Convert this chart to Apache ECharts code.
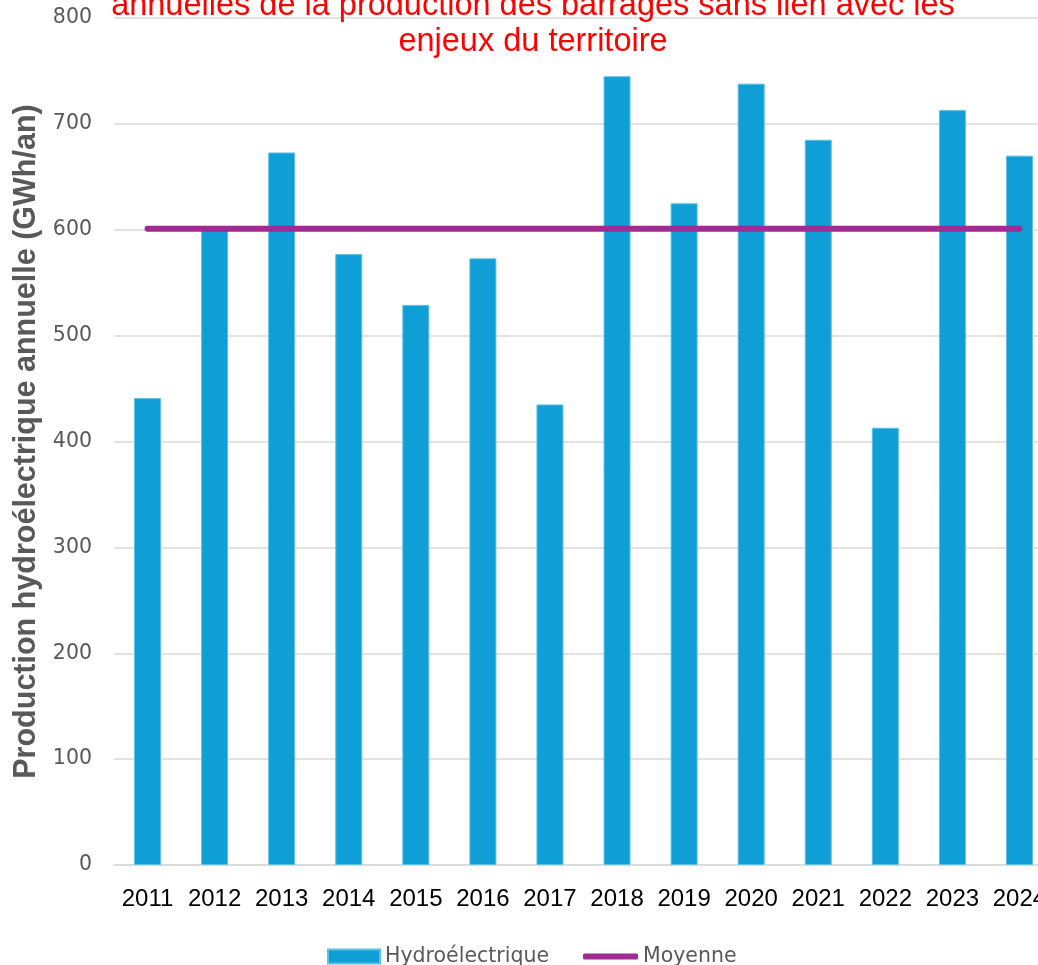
<!DOCTYPE html>
<html>
<head>
<meta charset="utf-8">
<script src="https://cdn.jsdelivr.net/npm/echarts@6/dist/echarts.min.js"></script>
<style>
  html, body { margin: 0; padding: 0; background: #fff; overflow: hidden; }
  /* le graphique d'origine est rogné à droite : le canevas dépasse la fenêtre */
  #chart { width: 1053px; height: 965px; }
</style>
</head>
<body>
<div id="chart"></div>
<script>
// données
const years = ['2011', '2012', '2013', '2014', '2015', '2016', '2017', '2018', '2019', '2020', '2021', '2022', '2023', '2024']
const hydro = [441, 601, 673, 577, 529, 573, 435, 745, 625, 738, 685, 413, 713, 670]
const moyenne = [601, 601, 601, 601, 601, 601, 601, 601, 601, 601, 601, 601, 601, 601]

const grey = '#595959'
const chart = echarts.init(document.getElementById('chart'))

chart.setOption({
  animation: false,
  title: {
    text: 'annuelles de la production des barrages sans lien avec les\nenjeux du territoire',
    left: 533,
    textAlign: 'center',
    top: -12,
    padding: 0,
    textStyle: {
      color: '#ff0000',
      fontFamily: 'Liberation Sans',
      fontWeight: 'normal',
      fontSize: 32.5,
      lineHeight: 36
    }
  },
  legend: [
    {
      data: ['Hydroélectrique'],
      left: 327,
      top: 946,
      padding: 0,
      itemWidth: 52,
      itemHeight: 14,
      icon: 'rect',
      textStyle: { color: grey, fontSize: 20.5, fontFamily: 'DejaVu Sans' }
    },
    {
      data: ['Moyenne'],
      left: 583,
      top: 946,
      padding: 0,
      itemWidth: 55,
      itemHeight: 6,
      icon: 'roundRect',
      textStyle: { color: grey, fontSize: 20.5, fontFamily: 'DejaVu Sans' }
    }
  ],
  grid: { left: 114, top: 18, right: 0, height: 847 },
  xAxis: {
    type: 'category',
    data: years,
    axisLine: { lineStyle: { color: '#d9d9d9', width: 1.5 } },
    axisTick: { show: false },
    axisLabel: { interval: 0, color: '#000', fontSize: 24, fontFamily: 'Liberation Sans', margin: 22 }
  },
  yAxis: {
    type: 'value',
    min: 0,
    max: 800,
    interval: 100,
    name: 'Production hydroélectrique annuelle (GWh/an)',
    nameLocation: 'middle',
    nameGap: 69,
    nameTextStyle: { color: grey, fontSize: 30.5, fontWeight: 'bold', fontFamily: 'Liberation Sans' },
    axisLine: { show: false },
    axisTick: { show: false },
    axisLabel: { color: grey, fontSize: 20.5, fontFamily: 'DejaVu Sans', margin: 22 },
    splitLine: { lineStyle: { color: '#d9d9d9', width: 1.5 } }
  },
  series: [
    {
      name: 'Hydroélectrique',
      type: 'bar',
      data: hydro,
      barWidth: 27,
      itemStyle: { color: '#0f9ed5', borderColor: '#5fc0e6', borderWidth: 1 }
    },
    {
      name: 'Moyenne',
      type: 'line',
      data: moyenne,
      symbol: 'none',
      lineStyle: { color: '#a02b93', width: 6, cap: 'round' },
      itemStyle: { color: '#a02b93' }
    }
  ]
})
</script>
</body>
</html>
